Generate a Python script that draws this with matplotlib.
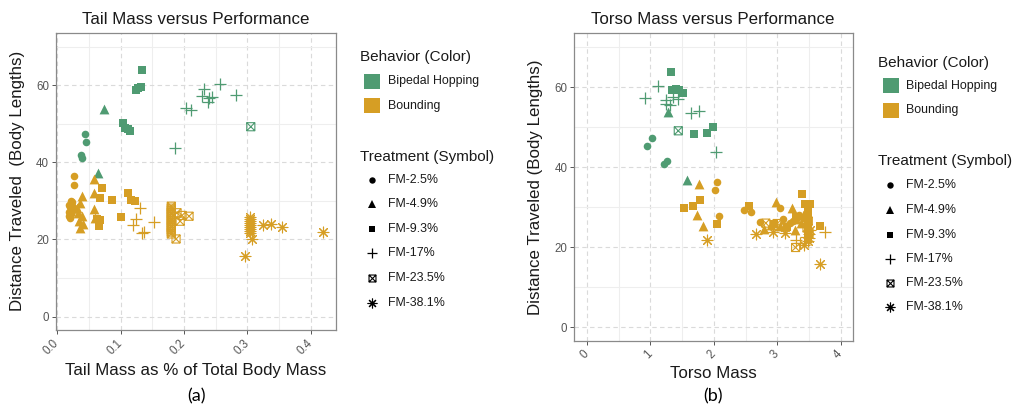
import numpy as np
import matplotlib
matplotlib.use("Agg")
import matplotlib.pyplot as plt
from matplotlib.path import Path
from matplotlib.lines import Line2D
from matplotlib.patches import Rectangle

plt.rcParams['font.family'] = ['Liberation Sans', 'DejaVu Sans']

# ---------------- data ----------------
GREEN = "#4F9B72"
GOLD = "#D69E24"

behaviors = ["Bipedal Hopping", "Bounding"]
treatments = ["FM-2.5%", "FM-4.9%", "FM-9.3%", "FM-17%", "FM-23.5%", "FM-38.1%"]

# Panel (a): tail mass fraction vs distance
tail_hop_25_x = [0.044, 0.046, 0.038, 0.039]
tail_hop_25_y = [47.4, 45.2, 41.8, 41.0]
tail_hop_49_x = [0.074, 0.064]
tail_hop_49_y = [53.9, 37.1]
tail_hop_93_x = [0.134, 0.124, 0.128, 0.132, 0.103, 0.107, 0.115, 0.111]
tail_hop_93_y = [63.8, 58.6, 59.2, 59.5, 50.1, 48.9, 48.2, 48.5]
tail_hop_17_x = [0.186, 0.203, 0.211, 0.232, 0.228, 0.240, 0.244, 0.238, 0.257, 0.282]
tail_hop_17_y = [43.7, 54.1, 53.5, 58.9, 57.1, 56.7, 56.9, 55.6, 60.4, 57.4]
tail_hop_235_x = [0.3055]
tail_hop_235_y = [49.2]

tail_bnd_25_x = [0.027, 0.027, 0.018, 0.019, 0.020, 0.021, 0.022, 0.023, 0.025, 0.020,
                 0.024, 0.027, 0.022, 0.019]
tail_bnd_25_y = [36.4, 34.2, 26.0, 27.2, 28.3, 29.4, 30.0, 28.6, 27.6, 25.6,
                 29.6, 28.1, 26.6, 29.0]
tail_bnd_49_x = [0.058, 0.058, 0.039, 0.036, 0.058, 0.033, 0.039, 0.034, 0.036, 0.060,
                 0.040, 0.031]
tail_bnd_49_y = [35.7, 32.0, 31.2, 29.5, 27.9, 26.9, 26.0, 24.7, 23.0, 25.6,
                 24.0, 28.2]
tail_bnd_93_x = [0.070, 0.067, 0.086, 0.111, 0.116, 0.123, 0.101, 0.062, 0.066, 0.068]
tail_bnd_93_y = [33.4, 30.7, 30.3, 32.0, 30.3, 29.9, 25.7, 25.3, 23.4, 24.9]
tail_bnd_17_x = [0.131, 0.124, 0.120, 0.152, 0.133, 0.137]
tail_bnd_17_y = [28.2, 25.3, 23.8, 24.4, 21.7, 22.0]
tail_bnd_235_x = [0.180, 0.180, 0.180, 0.180, 0.180, 0.180, 0.180, 0.180,
                  0.180, 0.180, 0.180, 0.180, 0.180, 0.180,
                  0.189, 0.197, 0.208, 0.194, 0.1875]
tail_bnd_235_y = [21.4, 21.9, 22.5, 23.1, 23.6, 24.2, 24.8, 25.3, 25.9, 26.5, 27.0,
                  27.6, 28.1, 28.6,
                  26.9, 26.2, 26.0, 24.7, 20.1]
tail_bnd_381_x = [0.304, 0.304, 0.304, 0.304, 0.304, 0.304, 0.304, 0.304, 0.304,
                  0.308, 0.325, 0.337, 0.355, 0.419, 0.2965]
tail_bnd_381_y = [21.6, 22.1, 22.7, 23.2, 23.7, 24.3, 24.8, 25.3, 25.8,
                  20.1, 23.7, 24.1, 23.2, 21.9, 15.8]

# Panel (b): torso mass vs distance
torso_hop_25_x = [0.943, 1.022, 1.220, 1.258]
torso_hop_25_y = [45.2, 47.4, 40.7, 41.6]
torso_hop_49_x = [1.273, 1.572]
torso_hop_49_y = [53.7, 36.8]
torso_hop_93_x = [1.325, 1.336, 1.404, 1.456, 1.509, 1.692, 1.896, 1.980]
torso_hop_93_y = [63.7, 59.3, 59.5, 59.2, 58.5, 48.2, 48.5, 50.1]
torso_hop_17_x = [1.126, 0.917, 1.242, 1.310, 1.440, 1.360, 1.635, 1.770, 2.028, 1.250]
torso_hop_17_y = [60.4, 57.4, 56.8, 55.6, 57.0, 57.6, 53.5, 54.1, 43.7, 55.8]
torso_hop_235_x = [1.44]
torso_hop_235_y = [49.1]

torso_bnd_25_x = [2.054, 2.017, 2.085, 2.473, 2.594, 2.736, 3.040, 3.090, 2.950, 3.250,
                  3.350, 3.450, 3.400, 3.200]
torso_bnd_25_y = [36.3, 34.2, 27.7, 29.2, 28.8, 26.2, 29.7, 27.1, 26.0, 26.5,
                  28.0, 28.5, 27.3, 26.0]
torso_bnd_49_x = [1.771, 1.730, 1.824, 2.788, 2.987, 3.240, 3.275, 2.900, 3.300, 3.450,
                  3.380, 3.050]
torso_bnd_49_y = [35.7, 28.1, 25.2, 24.5, 31.4, 29.7, 24.3, 25.5, 27.0, 29.0,
                  26.0, 25.2]
torso_bnd_93_x = [1.780, 1.530, 1.676, 2.044, 2.557, 3.396, 3.300, 3.668, 3.440, 3.510,
                  3.485, 3.485, 3.485, 3.485, 3.485, 3.485, 3.485, 3.485, 2.950, 3.150]
torso_bnd_93_y = [31.8, 29.8, 30.2, 25.7, 30.3, 33.2, 27.6, 25.3, 30.7, 30.7,
                  29.4, 28.3, 27.2, 26.1, 25.0, 23.9, 22.9, 22.0, 25.8, 25.0]
torso_bnd_17_x = [3.300, 3.747, 3.360, 3.460]
torso_bnd_17_y = [21.8, 23.7, 21.0, 22.5]
torso_bnd_235_x = [2.820, 3.290, 3.130, 3.470, 3.500, 3.490, 3.000]
torso_bnd_235_y = [26.0, 19.9, 25.0, 24.8, 23.5, 26.5, 25.9]
torso_bnd_381_x = [1.887, 2.673, 2.934, 3.130, 3.430, 3.668, 3.480, 3.500, 3.500, 3.520]
torso_bnd_381_y = [21.8, 23.2, 23.7, 23.5, 20.4, 15.7, 21.5, 22.3, 23.3, 24.2]

x_ticks_a = [0.0, 0.1, 0.2, 0.3, 0.4]
x_ticks_b = [0, 1, 2, 3, 4]
y_ticks = [0, 20, 40, 60]

# ---------------- marker styles ----------------
boxx = Path([(-1, -1), (1, -1), (1, 1), (-1, 1), (-1, -1),
             (-1, -1), (1, 1), (-1, 1), (1, -1)],
            [Path.MOVETO, Path.LINETO, Path.LINETO, Path.LINETO, Path.CLOSEPOLY,
             Path.MOVETO, Path.LINETO, Path.MOVETO, Path.LINETO])

STYLE = {
    "FM-2.5%": dict(marker="o", s=30, filled=True, ms=4.6),
    "FM-4.9%": dict(marker="^", s=50, filled=True, ms=6.0),
    "FM-9.3%": dict(marker="s", s=30, filled=True, ms=4.6),
    "FM-17%": dict(marker="+", s=80, filled=False, lw=0.9, ms=7.5),
    "FM-23.5%": dict(marker=boxx, s=34, filled=False, lw=0.8, ms=5.0),
    "FM-38.1%": dict(marker=(8, 2, 0), s=60, filled=False, lw=0.8, ms=7.0),
}

W, H = 1022, 408
fig = plt.figure(figsize=(W / 100, H / 100), dpi=100)


def px(x, y):
    return x / W, 1 - y / H


def draw(ax, x, y, color, trt):
    st = STYLE[trt]
    if st["filled"]:
        ax.scatter(x, y, marker=st["marker"], s=st["s"], color=color,
                   linewidths=0, zorder=3)
    elif trt == "FM-23.5%":
        ax.scatter(x, y, marker=st["marker"], s=st["s"], facecolors="none",
                   edgecolors=color, linewidths=st["lw"], zorder=3)
    else:
        ax.scatter(x, y, marker=st["marker"], s=st["s"], color=color,
                   linewidths=st["lw"], zorder=3)


def style_axes(ax, xlim, xticks, xminor, ticklabels):
    ax.set_xlim(*xlim)
    ax.set_ylim(-3.5, 73.5)
    ax.set_xticks(xticks)
    ax.set_xticklabels(ticklabels, rotation=45, ha="right", va="center",
                       rotation_mode="anchor", color="#555555", fontsize=8.3)
    ax.set_yticks(y_ticks)
    ax.set_yticklabels([str(v) for v in y_ticks], color="#555555", fontsize=8.3)
    ax.set_xticks(xminor, minor=True)
    ax.set_yticks([10, 30, 50, 70], minor=True)
    ax.tick_params(which="minor", length=0)
    ax.tick_params(which="major", length=3, color="#555555", width=0.7, pad=2)
    ax.tick_params(axis="x", which="major", pad=5)
    ax.grid(which="major", color="#DADADA", linestyle=(0, (4, 3)), linewidth=0.8)
    ax.grid(which="minor", color="#EEEEEE", linestyle="-", linewidth=0.8)
    ax.set_axisbelow(True)
    for sp in ax.spines.values():
        sp.set_color("#8A8A8A")
        sp.set_linewidth(0.9)


# ---------------- panel (a) ----------------
axA = fig.add_axes([56 / W, 1 - 330 / H, 280 / W, 297 / H])
style_axes(axA, (-0.002, 0.44), x_ticks_a, [0.05, 0.15, 0.25, 0.35],
           ["0.0", "0.1", "0.2", "0.3", "0.4"])
draw(axA, tail_hop_25_x, tail_hop_25_y, GREEN, "FM-2.5%")
draw(axA, tail_hop_49_x, tail_hop_49_y, GREEN, "FM-4.9%")
draw(axA, tail_hop_93_x, tail_hop_93_y, GREEN, "FM-9.3%")
draw(axA, tail_hop_17_x, tail_hop_17_y, GREEN, "FM-17%")
draw(axA, tail_hop_235_x, tail_hop_235_y, GREEN, "FM-23.5%")
draw(axA, tail_bnd_25_x, tail_bnd_25_y, GOLD, "FM-2.5%")
draw(axA, tail_bnd_49_x, tail_bnd_49_y, GOLD, "FM-4.9%")
draw(axA, tail_bnd_93_x, tail_bnd_93_y, GOLD, "FM-9.3%")
draw(axA, tail_bnd_17_x, tail_bnd_17_y, GOLD, "FM-17%")
draw(axA, tail_bnd_235_x, tail_bnd_235_y, GOLD, "FM-23.5%")
draw(axA, tail_bnd_381_x, tail_bnd_381_y, GOLD, "FM-38.1%")

# ---------------- panel (b) ----------------
axB = fig.add_axes([574.3 / W, 1 - 341 / H, 279 / W, 307.7 / H])
style_axes(axB, (-0.2, 4.2), x_ticks_b, [0.5, 1.5, 2.5, 3.5],
           ["0", "1", "2", "3", "4"])
draw(axB, torso_hop_25_x, torso_hop_25_y, GREEN, "FM-2.5%")
draw(axB, torso_hop_49_x, torso_hop_49_y, GREEN, "FM-4.9%")
draw(axB, torso_hop_93_x, torso_hop_93_y, GREEN, "FM-9.3%")
draw(axB, torso_hop_17_x, torso_hop_17_y, GREEN, "FM-17%")
draw(axB, torso_hop_235_x, torso_hop_235_y, GREEN, "FM-23.5%")
draw(axB, torso_bnd_25_x, torso_bnd_25_y, GOLD, "FM-2.5%")
draw(axB, torso_bnd_49_x, torso_bnd_49_y, GOLD, "FM-4.9%")
draw(axB, torso_bnd_93_x, torso_bnd_93_y, GOLD, "FM-9.3%")
draw(axB, torso_bnd_17_x, torso_bnd_17_y, GOLD, "FM-17%")
draw(axB, torso_bnd_235_x, torso_bnd_235_y, GOLD, "FM-23.5%")
draw(axB, torso_bnd_381_x, torso_bnd_381_y, GOLD, "FM-38.1%")

# ---------------- titles & labels ----------------
TXT = "#1A1A1A"
fig.text(*px(196, 19.5), "Tail Mass versus Performance", ha="center", va="center",
         fontsize=12.2, color=TXT)
fig.text(*px(713, 19.5), "Torso Mass versus Performance", ha="center", va="center",
         fontsize=12.2, color=TXT)
fig.text(*px(196, 370), "Tail Mass as % of Total Body Mass", ha="center", va="center",
         fontsize=12.2, color=TXT)
fig.text(*px(713, 374), "Torso Mass", ha="center", va="center", fontsize=12.2, color=TXT)
fig.text(*px(18, 181), "Distance Traveled  (Body Lengths)", ha="center", va="center",
         rotation=90, fontsize=12.2, color=TXT)
fig.text(*px(535, 187), "Distance Traveled (Body Lengths)", ha="center", va="center",
         rotation=90, fontsize=12.2, color=TXT)
fig.text(*px(196, 396), "(a)", ha="center", va="center", fontsize=13,
         family=["Lato", "DejaVu Sans"], color="#000000")
fig.text(*px(713, 396), "(b)", ha="center", va="center", fontsize=13,
         family=["Lato", "DejaVu Sans"], color="#000000")


# ---------------- legends ----------------
def legend(x0, ytitle1, ycolors, ytitle2, yitems, xpatch, xmark, xtext):
    fig.text(*px(x0, ytitle1), "Behavior (Color)", ha="left", va="center",
             fontsize=11, color=TXT)
    for yy, col, lab in zip(ycolors, [GREEN, GOLD], behaviors):
        fig.add_artist(Rectangle(px(xpatch, yy + 7.5), 15.5 / W, 15 / H,
                                 transform=fig.transFigure, facecolor=col,
                                 edgecolor="none"))
        fig.text(*px(xtext, yy), lab, ha="left", va="center", fontsize=8.9, color=TXT)
    fig.text(*px(x0, ytitle2), "Treatment (Symbol)", ha="left", va="center",
             fontsize=11, color=TXT)
    for yy, trt in zip(yitems, treatments):
        st = STYLE[trt]
        if st["filled"]:
            ln = Line2D([xmark / W], [1 - yy / H], marker=st["marker"],
                        markersize=st["ms"], color="black", markeredgewidth=0,
                        linestyle="none", transform=fig.transFigure)
        else:
            ln = Line2D([xmark / W], [1 - yy / H], marker=st["marker"],
                        markersize=st["ms"], color="black", markerfacecolor="none",
                        markeredgewidth=st["lw"], linestyle="none",
                        transform=fig.transFigure)
        fig.add_artist(ln)
        fig.text(*px(xtext, yy), trt, ha="left", va="center", fontsize=8.9, color=TXT)


legend(360, 56.7, [81, 105.5], 157, [180, 204, 229, 253, 278, 303], 364, 372, 388)
legend(878, 62.5, [85.5, 110], 161.5, [185.5, 210, 235, 259, 283, 307], 883, 890, 906)

fig.savefig("out.png", dpi=100)
